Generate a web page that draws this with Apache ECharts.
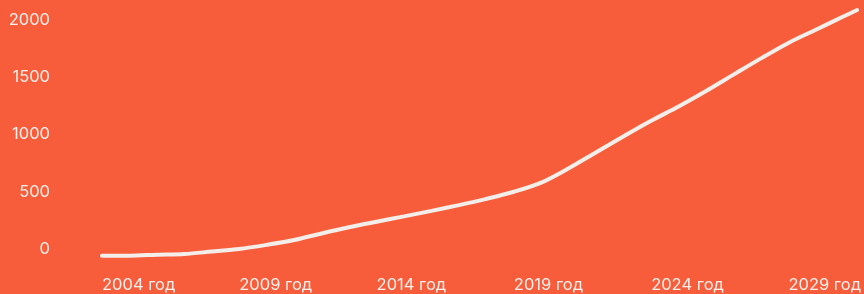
<!DOCTYPE html>
<html><head><meta charset="utf-8">
<script src="https://cdn.jsdelivr.net/npm/echarts@6/dist/echarts.min.js"></script>
<style>html,body{margin:0;padding:0;background:#F75D3A;}#c{width:864px;height:294px;}</style>
</head><body><div id="c"></div>
<script>
const years = [2004, 2005, 2006, 2007, 2008, 2009, 2010, 2011, 2012, 2013, 2014, 2015, 2016, 2017, 2018, 2019, 2020, 2021, 2022, 2023, 2024, 2025, 2026, 2027, 2028, 2029, 2030, 2031, 2031.5];
const values = [-58, -58, -50, -44, -22, 0, 36, 78, 136, 190, 238, 285, 333, 383, 438, 500, 580, 705, 845, 985, 1120, 1245, 1380, 1523, 1665, 1800, 1915, 2030, 2087];
const xTicks = [2004, 2009, 2014, 2019, 2024, 2029];
const yTicks = [0, 500, 1000, 1500, 2000];

const chart = echarts.init(document.getElementById('c'), null, {renderer: 'canvas'});
chart.setOption({
  backgroundColor: '#F75D3A',
  animation: false,
  grid: {left: 102, right: 4, top: 8.55, bottom: 33.55},
  xAxis: {
    type: 'value', min: 2004, max: 2031.5,
    axisLine: {show: false}, axisTick: {show: false}, splitLine: {show: false},
    axisLabel: {
      customValues: xTicks, formatter: v => v + ' год', align: 'left',
      color: 'rgba(255,255,255,0.9)', fontFamily: 'Inter', fontSize: 16.5, margin: 16
    }
  },
  yAxis: {
    type: 'value', min: -100, max: 2100,
    axisLine: {show: false}, axisTick: {show: false}, splitLine: {show: false},
    axisLabel: {
      customValues: yTicks, formatter: v => String(v), color: 'rgba(255,255,255,0.9)', fontFamily: 'Inter', fontSize: 16.5, margin: 52
    }
  },
  series: [{
    type: 'line', data: years.map((y, i) => [y, values[i]]),
    showSymbol: false, smooth: 0.3,
    lineStyle: {color: '#F4EEEA', width: 4, cap: 'round'}
  }]
});
</script></body></html>
